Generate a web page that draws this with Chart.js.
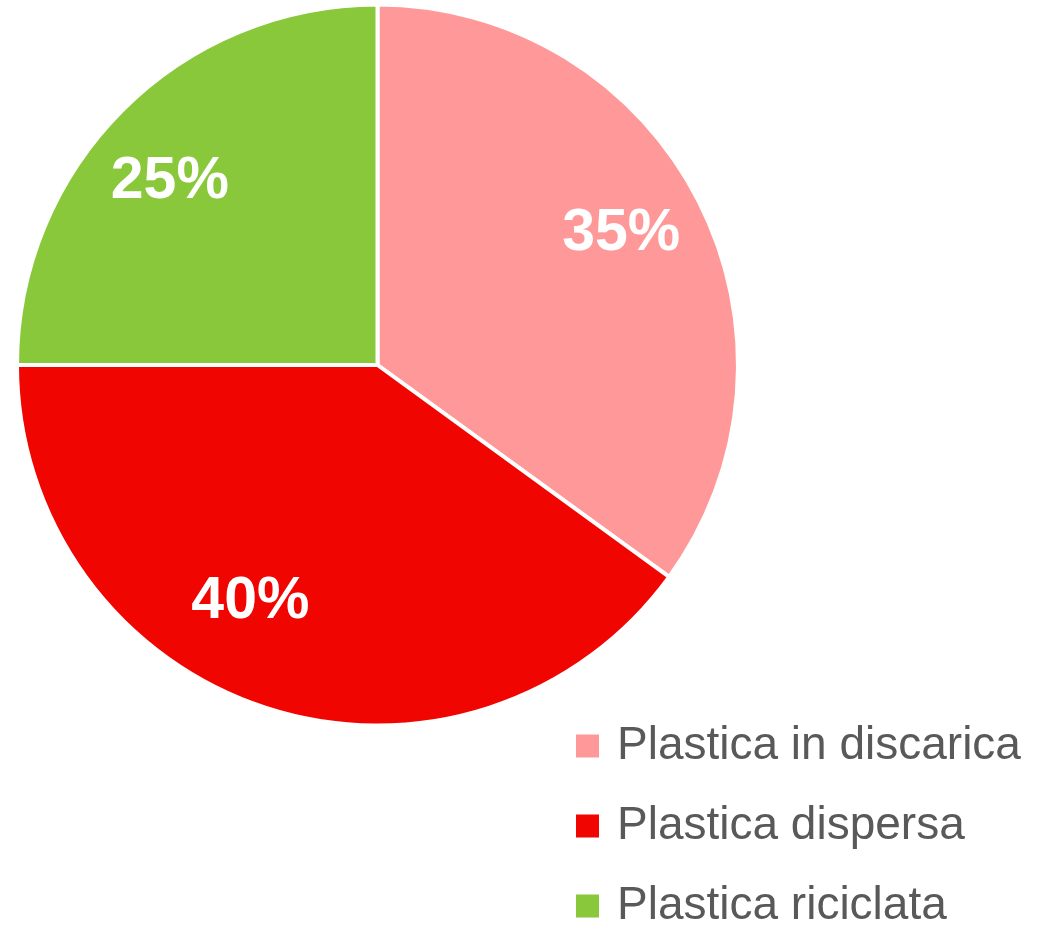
<!DOCTYPE html>
<html>
<head>
<meta charset="utf-8">
<script src="https://cdn.jsdelivr.net/npm/chart.js@4/dist/chart.umd.min.js"></script>
<style>
html,body{margin:0;padding:0;background:#fff;}
#wrap{width:1048px;height:931px;position:relative;}
</style>
</head>
<body>
<div id="wrap"><canvas id="c" width="1048" height="931"></canvas></div>
<script>
const categories = ["Plastica in discarica", "Plastica dispersa", "Plastica riciclata"];
const values = [35, 40, 25];
const valueLabels = ["35%", "40%", "25%"];
const colors = ["#FF9999", "#F00500", "#88C83A"];

const labelPlugin = {
  id: 'sliceLabels',
  afterDatasetsDraw(chart, args, opts) {
    const ctx = chart.ctx;
    const meta = chart.getDatasetMeta(0);
    ctx.save();
    ctx.fillStyle = '#ffffff';
    ctx.font = 'bold 59px "Liberation Sans", Arial, sans-serif';
    ctx.textAlign = 'center';
    ctx.textBaseline = 'middle';
    meta.data.forEach((arc, i) => {
      const p = arc.getProps(['x','y','startAngle','endAngle','outerRadius'], true);
      const mid = (p.startAngle + p.endAngle) / 2 + opts.angleNudge[i] * Math.PI / 180;
      const r = p.outerRadius * opts.radiusFrac[i];
      ctx.fillText(valueLabels[i], p.x + Math.cos(mid) * r, p.y + Math.sin(mid) * r);
    });
    ctx.restore();
  }
};

const legendPlugin = {
  id: 'cornerLegend',
  afterDraw(chart, args, opts) {
    const ctx = chart.ctx;
    const ds = chart.data.datasets[0];
    ctx.save();
    ctx.font = '46px "Liberation Sans", Arial, sans-serif';
    ctx.textAlign = 'left';
    ctx.textBaseline = 'middle';
    chart.data.labels.forEach((lab, i) => {
      const y = opts.top + i * opts.rowGap;
      ctx.fillStyle = ds.backgroundColor[i];
      ctx.fillRect(opts.left, y - opts.box / 2, opts.box, opts.box);
      ctx.fillStyle = '#595959';
      ctx.fillText(lab, opts.left + opts.box + opts.textGap, y);
    });
    ctx.restore();
  }
};

new Chart(document.getElementById('c'), {
  type: 'pie',
  data: {
    labels: categories,
    datasets: [{
      data: values,
      backgroundColor: colors,
      borderColor: '#ffffff',
      borderWidth: 4,
      hoverOffset: 0
    }]
  },
  options: {
    responsive: false,
    animation: false,
    layout: { padding: { left: 15, top: 2.5, right: 308, bottom: 203.5 } },
    plugins: {
      legend: { display: false },
      tooltip: { enabled: false },
      sliceLabels: { angleNudge: [-1.3, 10.2, -3.6], radiusFrac: [0.768, 0.746, 0.768] },
      cornerLegend: { left: 576, top: 746, rowGap: 80, box: 23, textGap: 18 }
    }
  },
  plugins: [labelPlugin, legendPlugin]
});
</script>
</body>
</html>
